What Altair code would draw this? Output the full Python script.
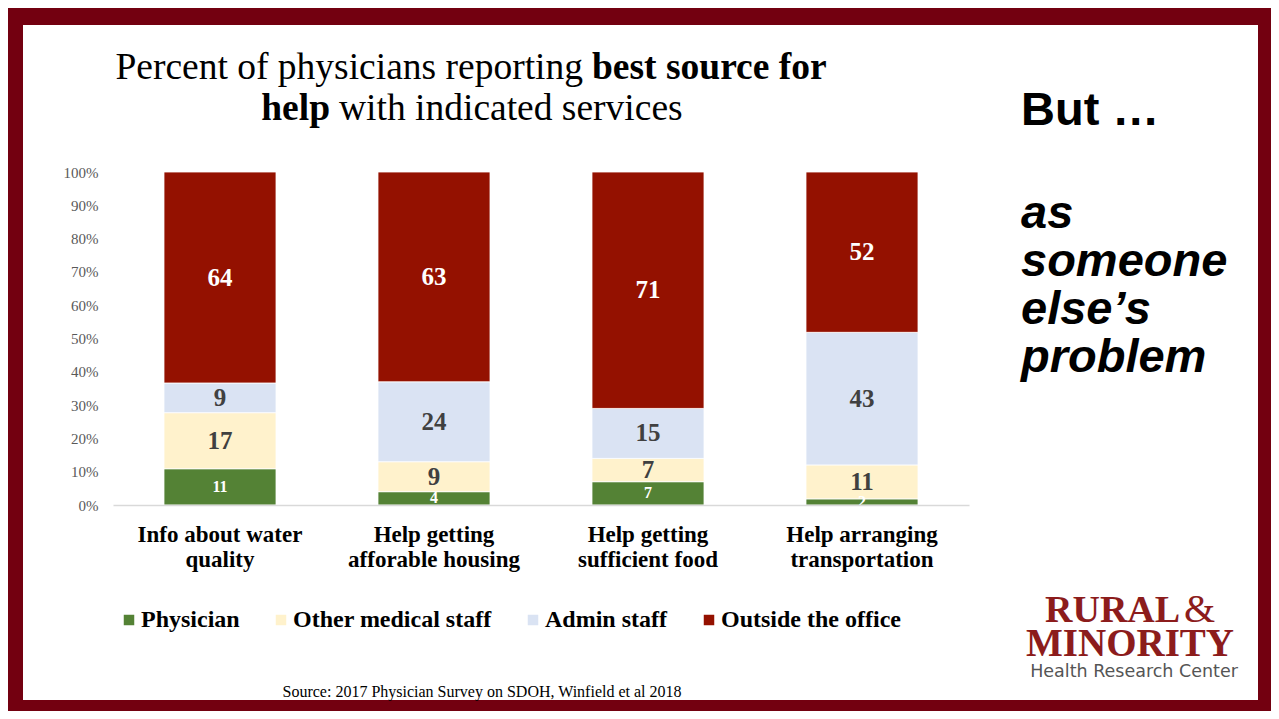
import altair as alt
import pandas as pd

# ---- data ----
categories = ["Info about water|quality", "Help getting|afforable housing",
              "Help getting|sufficient food", "Help arranging|transportation"]
series = ["Physician", "Other medical staff", "Admin staff", "Outside the office"]
physician = [11, 4, 7, 2]
other_staff = [17, 9, 7, 11]
admin_staff = [9, 24, 15, 43]
outside = [64, 63, 71, 52]
y_ticks = [0, 0.1, 0.2, 0.3, 0.4, 0.5, 0.6, 0.7, 0.8, 0.9, 1.0]
colors = ["#548235", "#FFF2CC", "#DAE3F3", "#941100"]
label_colors = ["white", "#404040", "#404040", "white"]
label_sizes = [16, 25, 25, 25]

vals = [physician, other_staff, admin_staff, outside]
rows = []
for ci, cat in enumerate(categories):
    total = sum(v[ci] for v in vals)
    cum = 0
    for si, s in enumerate(series):
        v = vals[si][ci]
        cum += v
        rows.append({"cat": cat, "series": s, "value": v, "idx": si,
                     "mid": (cum - v / 2) / total, "label": str(v),
                     "tcolor": label_colors[si], "tsize": label_sizes[si]})
df = pd.DataFrame(rows)

SERIF = "Liberation Serif"
SANS = "Liberation Sans"

xaxis = alt.Axis(title=None, labelAngle=0, labelFont=SERIF, labelFontWeight="bold",
                 labelFontSize=23, labelColor="black",
                 labelExpr="split(datum.label, '|')", labelLineHeight=25,
                 labelBaseline="top", labelPadding=18, ticks=False,
                 domainColor="#d9d9d9", domainWidth=1.5, labelLimit=400, zindex=1)
yaxis = alt.Axis(title=None, values=y_ticks, format=".0%", tickCount=11,
                 labelFont=SERIF, labelFontSize=15, labelColor="#595959",
                 ticks=False, domain=False, grid=False, labelPadding=15,
                 labelOverlap=False, zindex=1)
xscale = alt.Scale(paddingInner=0.4766, paddingOuter=0.2383)
yscale = alt.Scale(domain=[0, 1])

bars = alt.Chart(df).mark_bar(stroke="white", strokeWidth=0.8).encode(
    x=alt.X("cat:N", sort=categories, scale=xscale, axis=xaxis),
    y=alt.Y("value:Q", stack="normalize", scale=yscale, axis=yaxis),
    color=alt.Color("series:N", scale=alt.Scale(domain=series, range=colors),
                    legend=alt.Legend(orient="none", direction="horizontal", legendX=4,
                                      legendY=436, title=None, symbolType="square",
                                      symbolSize=110, symbolStrokeWidth=0,
                                      labelFont=SERIF, labelFontWeight="bold",
                                      labelFontSize=24, labelColor="black", labelOffset=0,
                                      columnPadding=29, columns=4, labelLimit=400)),
    order=alt.Order("idx:Q", sort="ascending"),
)

labels = alt.Chart(df).mark_text(font=SERIF, fontWeight="bold", baseline="middle").encode(
    x=alt.X("cat:N", sort=categories, scale=xscale, axis=xaxis),
    y=alt.Y("mid:Q", scale=yscale, axis=yaxis),
    text="label:N",
    color=alt.Color("tcolor:N", scale=None),
    size=alt.Size("tsize:Q", scale=None),
)

# plot origin in page coordinates
OX, OY = 113, 172


def ann(text, px, py, size, font=SERIF, weight="normal", style="normal",
        color="black", align="left", baseline="alphabetic"):
    return alt.Chart(pd.DataFrame({"t": [text]})).mark_text(
        font=font, fontSize=size, fontWeight=weight, fontStyle=style, color=color,
        align=align, baseline=baseline).encode(
        x=alt.value(px - OX), y=alt.value(py - OY), text="t:N")


white_box = alt.Chart(pd.DataFrame({"a": [0]})).mark_rect(color="white").encode(
    x=alt.value(23 - OX), x2=alt.value(1258 - OX),
    y=alt.value(25 - OY), y2=alt.value(700 - OY))

texts = [
    ann("Percent of physicians reporting", 583, 79, 37.5, align="right"),
    ann("best source for", 592, 79, 37.5, weight="bold"),
    ann("help", 330, 120, 37.5, weight="bold", align="right"),
    ann("with indicated services", 339, 120, 37.5),
    ann("But \u2026", 1021, 125, 47, font=SANS, weight="bold"),
    ann("as", 1021, 228, 47, font=SANS, weight="bold", style="italic"),
    ann("someone", 1021, 276, 47, font=SANS, weight="bold", style="italic"),
    ann("else\u2019s", 1021, 324, 47, font=SANS, weight="bold", style="italic"),
    ann("problem", 1021, 372, 47, font=SANS, weight="bold", style="italic"),
    ann("Source: 2017 Physician Survey on SDOH, Winfield et al 2018", 482, 697, 16,
        align="center"),
    ann("RURAL", 1045, 622, 38, weight="bold", color="#8C1C1C"),
    ann("&", 1184, 622, 40, color="#8C1C1C"),
    ann("MINORITY", 1026, 656, 39, weight="bold", color="#8C1C1C"),
    ann("Health Research Center", 1134, 677, 17.5, font="DejaVu Sans", color="#555555",
        align="center"),
]

chart = alt.layer(white_box, bars, labels, *texts).properties(
    width=856, height=333,
    autosize=alt.AutoSizeParams(type="none"),
    padding={"left": 105, "top": 164, "right": 302, "bottom": 206},
).configure(background="#730010").configure_view(stroke=None)

chart.save("out.html", embed_options={"renderer": "svg", "actions": False})
